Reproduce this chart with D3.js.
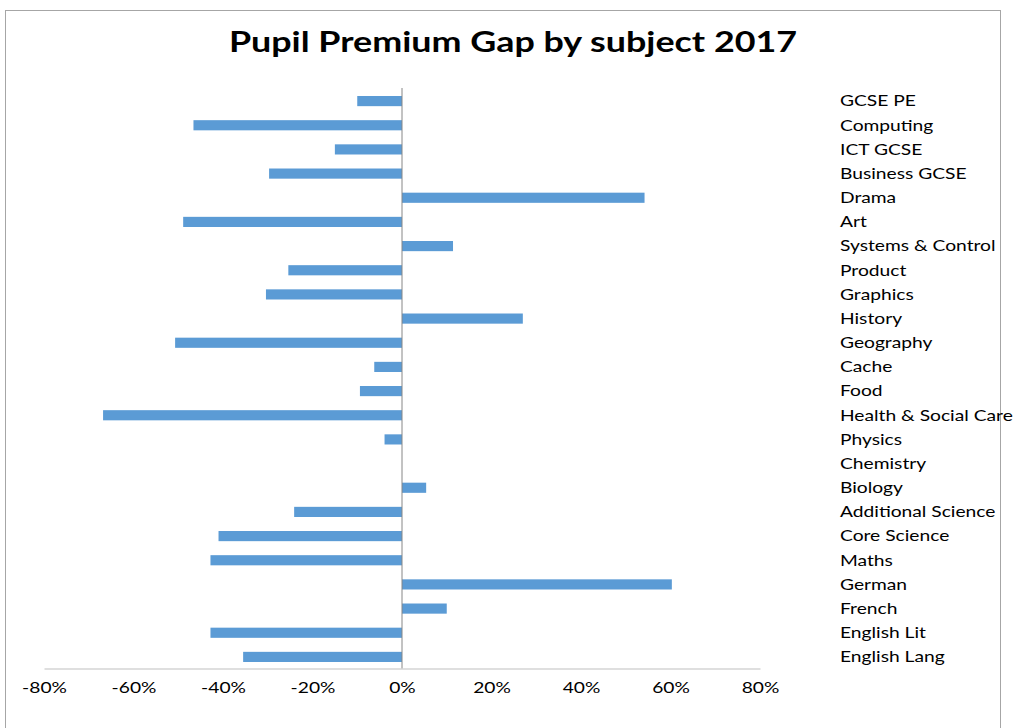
<!DOCTYPE html>
<html>
<head>
  <meta charset="utf-8">
  <title>Pupil Premium Gap by subject 2017</title>
  <script src="https://cdn.jsdelivr.net/npm/d3@7"></script>
  <style>
    body { margin: 0; background: #fff; }
    text { font-family: Lato, "Open Sans", sans-serif; }
  </style>
</head>
<body>
<script>
  // subjects, top to bottom as drawn
  var subjects = ["GCSE PE", "Computing", "ICT GCSE", "Business GCSE", "Drama", "Art",
    "Systems & Control", "Product", "Graphics", "History", "Geography", "Cache", "Food",
    "Health & Social Care", "Physics", "Chemistry", "Biology", "Additional Science",
    "Core Science", "Maths", "German", "French", "English Lit", "English Lang"]
  // gap (fraction)
  var gap = [-0.10, -0.466, -0.15, -0.297, 0.542, -0.489, 0.114, -0.254, -0.304, 0.27,
    -0.507, -0.062, -0.094, -0.668, -0.039, 0, 0.054, -0.241, -0.41, -0.428, 0.603,
    0.10, -0.428, -0.355]
  var xTicks = [-0.8, -0.6, -0.4, -0.2, 0, 0.2, 0.4, 0.6, 0.8]

  var W = 1019, H = 728
  var stretch = 1.28   // the original text is wider than normal
  var svg = d3.select("body").append("svg").attr("width", W).attr("height", H)

  // widen a text horizontally
  function widen(sel) {
    sel.each(function() {
      var len = this.getComputedTextLength()
      d3.select(this).attr("textLength", len * stretch).attr("lengthAdjust", "spacingAndGlyphs")
    })
  }

  // chart frame
  svg.append("rect").attr("x", 5.5).attr("y", 10.5).attr("width", 995).attr("height", 740)
    .attr("fill", "none").attr("stroke", "#a6a6a6")

  svg.append("text").attr("x", 513).attr("y", 52).attr("text-anchor", "middle")
    .attr("font-size", 28).attr("font-weight", "bold").attr("fill", "#000")
    .text("Pupil Premium Gap by subject 2017")
    .call(widen)

  var x = d3.scaleLinear().domain([-0.8, 0.8]).range([44, 760])
  var y = d3.scaleBand().domain(subjects).range([89, 669]).paddingInner(0.58).paddingOuter(0.29)

  // bars
  svg.selectAll(".bar").data(subjects).enter().append("rect")
    .attr("class", "bar")
    .attr("x", function(d, i) { return x(Math.min(0, gap[i])) })
    .attr("y", function(d) { return y(d) })
    .attr("width", function(d, i) { return Math.abs(x(gap[i]) - x(0)) })
    .attr("height", y.bandwidth())
    .attr("fill", "#5b9bd5")

  // zero line
  svg.append("line").attr("x1", x(0)).attr("x2", x(0)).attr("y1", 88).attr("y2", 668.5)
    .attr("stroke", "#868686").attr("stroke-width", 1)

  // bottom axis
  var xAxis = d3.axisBottom(x).tickValues(xTicks)
    .tickFormat(function(d) { return Math.round(d * 100) + "%" })
    .tickSize(0).tickPadding(14)
  var ax = svg.append("g").attr("transform", "translate(0,668.5)").call(xAxis)
  ax.select(".domain").attr("stroke", "#bfbfbf")
  ax.selectAll("text").attr("font-size", 15).attr("fill", "#000").attr("font-family", "Lato, sans-serif")
    .call(widen)

  // category labels on right
  svg.selectAll(".lab").data(subjects).enter().append("text")
    .attr("class", "lab")
    .attr("x", 840)
    .attr("y", function(d) { return y(d) + y.bandwidth() / 2 })
    .attr("dy", "0.35em")
    .attr("font-size", 15).attr("fill", "#000")
    .text(function(d) { return d })
    .call(widen)
</script>
</body>
</html>
